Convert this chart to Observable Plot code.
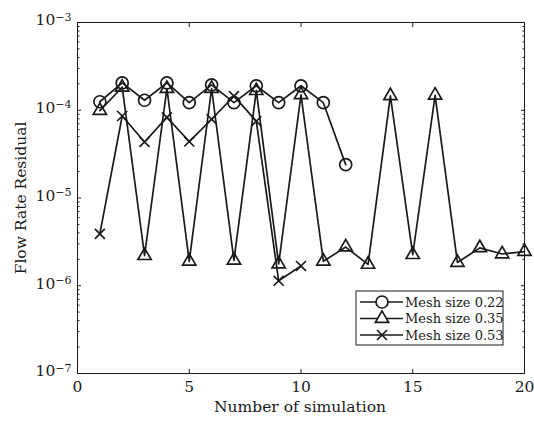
<!DOCTYPE html>
<html>
<head>
<meta charset="utf-8">
<script src="https://cdn.jsdelivr.net/npm/d3@7"></script>
<script src="https://cdn.jsdelivr.net/npm/@observablehq/plot@0.6"></script>
<style>
  html, body { margin: 0; padding: 0; background: #fff; }
  #chart { width: 534px; height: 421px; }
</style>
</head>
<body>
<div id="chart"></div>
<script>
// ---- data ----
const seriesNames = ["Mesh size 0.22", "Mesh size 0.35", "Mesh size 0.53"];
const seriesSymbols = ["circle", "triangle", "times"];
const simMesh022 = [1, 2, 3, 4, 5, 6, 7, 8, 9, 10, 11, 12];
const resMesh022 = [1.25e-4, 2.05e-4, 1.3e-4, 2.05e-4, 1.22e-4, 1.95e-4, 1.22e-4, 1.9e-4, 1.22e-4, 1.9e-4, 1.22e-4, 2.4e-5];
const simMesh035 = [1, 2, 3, 4, 5, 6, 7, 8, 9, 10, 11, 12, 13, 14, 15, 16, 17, 18, 19, 20];
const resMesh035 = [0.99e-4, 1.83e-4, 2.2e-6, 1.77e-4, 1.9e-6, 1.77e-4, 1.95e-6, 1.67e-4, 1.77e-6, 1.5e-4, 1.9e-6, 2.76e-6, 1.75e-6, 1.46e-4, 2.26e-6, 1.48e-4, 1.84e-6, 2.7e-6, 2.3e-6, 2.45e-6];
const simMesh053 = [1, 2, 3, 4, 5, 6, 7, 8, 9, 10];
const resMesh053 = [3.9e-6, 8.6e-5, 4.35e-5, 8.3e-5, 4.4e-5, 7.9e-5, 1.45e-4, 7.5e-5, 1.14e-6, 1.68e-6];
const xTicks = [0, 5, 10, 15, 20];
const yTicks = [1e-7, 1e-6, 1e-5, 1e-4, 1e-3];
const xLabel = "Number of simulation";
const yLabel = "Flow Rate Residual";

// ---- build ----
const series = [
  {name: seriesNames[0], symbol: seriesSymbols[0], r: 6, data: simMesh022.map((s, i) => ({x: s, y: resMesh022[i]}))},
  {name: seriesNames[1], symbol: seriesSymbols[1], r: 4.9, data: simMesh035.map((s, i) => ({x: s, y: resMesh035[i]}))},
  {name: seriesNames[2], symbol: seriesSymbols[2], r: 4.6, data: simMesh053.map((s, i) => ({x: s, y: resMesh053[i]}))}
];
const yMinor = [];
for (const d of yTicks.slice(0, -1)) for (let k = 2; k <= 9; k++) yMinor.push(d * k);

const ink = "#1a1a1a";
const font = "'DejaVu Serif', 'Liberation Serif', serif";
const blank = () => "";

const marks = [
  Plot.frame({stroke: ink, strokeWidth: 1}),
  Plot.axisX({anchor: "bottom", ticks: xTicks, tickSize: -4, tickPadding: 11, fontSize: 15.5, label: null, stroke: ink}),
  Plot.axisX({anchor: "top", ticks: xTicks, tickSize: -4, tickFormat: blank, label: null, stroke: ink}),
  Plot.axisY({anchor: "left", ticks: yTicks, tickSize: -4, tickPadding: 10, fontSize: 15.5, tickFormat: d => "10|" + Math.round(Math.log10(d)), label: null, stroke: ink}),
  Plot.axisY({anchor: "right", ticks: yTicks, tickSize: -4, tickFormat: blank, label: null, stroke: ink}),
  Plot.axisY({anchor: "left", ticks: yMinor, tickSize: -2.5, tickFormat: blank, label: null, stroke: ink}),
  Plot.axisY({anchor: "right", ticks: yMinor, tickSize: -2.5, tickFormat: blank, label: null, stroke: ink})
];
for (const s of series) {
  marks.push(Plot.line(s.data, {x: "x", y: "y", stroke: ink, strokeWidth: 1.7}));
  marks.push(Plot.dot(s.data, {x: "x", y: "y", symbol: () => s.symbol, r: s.r, stroke: ink, strokeWidth: 1.7, fill: "none"}));
}

const chart = Plot.plot({
  width: 534,
  height: 421,
  marginLeft: 77,
  marginRight: 10,
  marginTop: 22,
  marginBottom: 48,
  style: {fontFamily: font, fontSize: "15px", color: ink, background: "#fff"},
  x: {domain: [0, 20]},
  y: {type: "log", domain: [1e-7, 1e-3]},
  symbol: {type: "identity"},
  marks
});

const svg = d3.select(chart);

// turn "10|-3" tick labels into 10 with a raised, smaller exponent
svg.selectAll("text").each(function() {
  const t = this.textContent;
  if (/^10\|/.test(t)) {
    const exp = t.split("|")[1].replace("-", "\u2212");
    const el = d3.select(this);
    el.text(null);
    el.append("tspan").text("10");
    el.append("tspan").attr("dy", "-0.45em").attr("font-size", "11px").text(exp);
    el.attr("transform", (el.attr("transform") || "") + " translate(0,-2)");
  }
});

// axis titles
svg.append("text")
  .attr("x", 300).attr("y", 412)
  .attr("text-anchor", "middle")
  .attr("font-family", font).attr("font-size", 15.5).attr("fill", ink)
  .text(xLabel);
svg.append("text")
  .attr("transform", "translate(26,198) rotate(-90)")
  .attr("text-anchor", "middle")
  .attr("font-family", font).attr("font-size", 15.5).attr("fill", ink)
  .text(yLabel);

// legend
const lg = svg.append("g").attr("transform", "translate(356,291)");
lg.append("rect").attr("width", 147).attr("height", 54).attr("fill", "#fff").attr("stroke", ink).attr("stroke-width", 1);
const symMap = {circle: d3.symbolCircle, triangle: d3.symbolTriangle, times: d3.symbolTimes};
series.forEach((s, i) => {
  const y = 11 + i * 16.5;
  const row = lg.append("g").attr("transform", `translate(0,${y})`);
  row.append("line").attr("x1", 4).attr("x2", 47).attr("stroke", ink).attr("stroke-width", 1.7);
  row.append("path").attr("transform", "translate(26,0)")
    .attr("d", d3.symbol(symMap[s.symbol], Math.PI * s.r * s.r)())
    .attr("fill", "#fff").attr("stroke", ink).attr("stroke-width", 1.7);
  row.append("text").attr("x", 49).attr("dy", "0.35em")
    .attr("text-anchor", "start")
    .attr("font-family", font).attr("font-size", 13).attr("fill", ink)
    .text(s.name);
});

document.getElementById("chart").appendChild(chart);
</script>
</body>
</html>
